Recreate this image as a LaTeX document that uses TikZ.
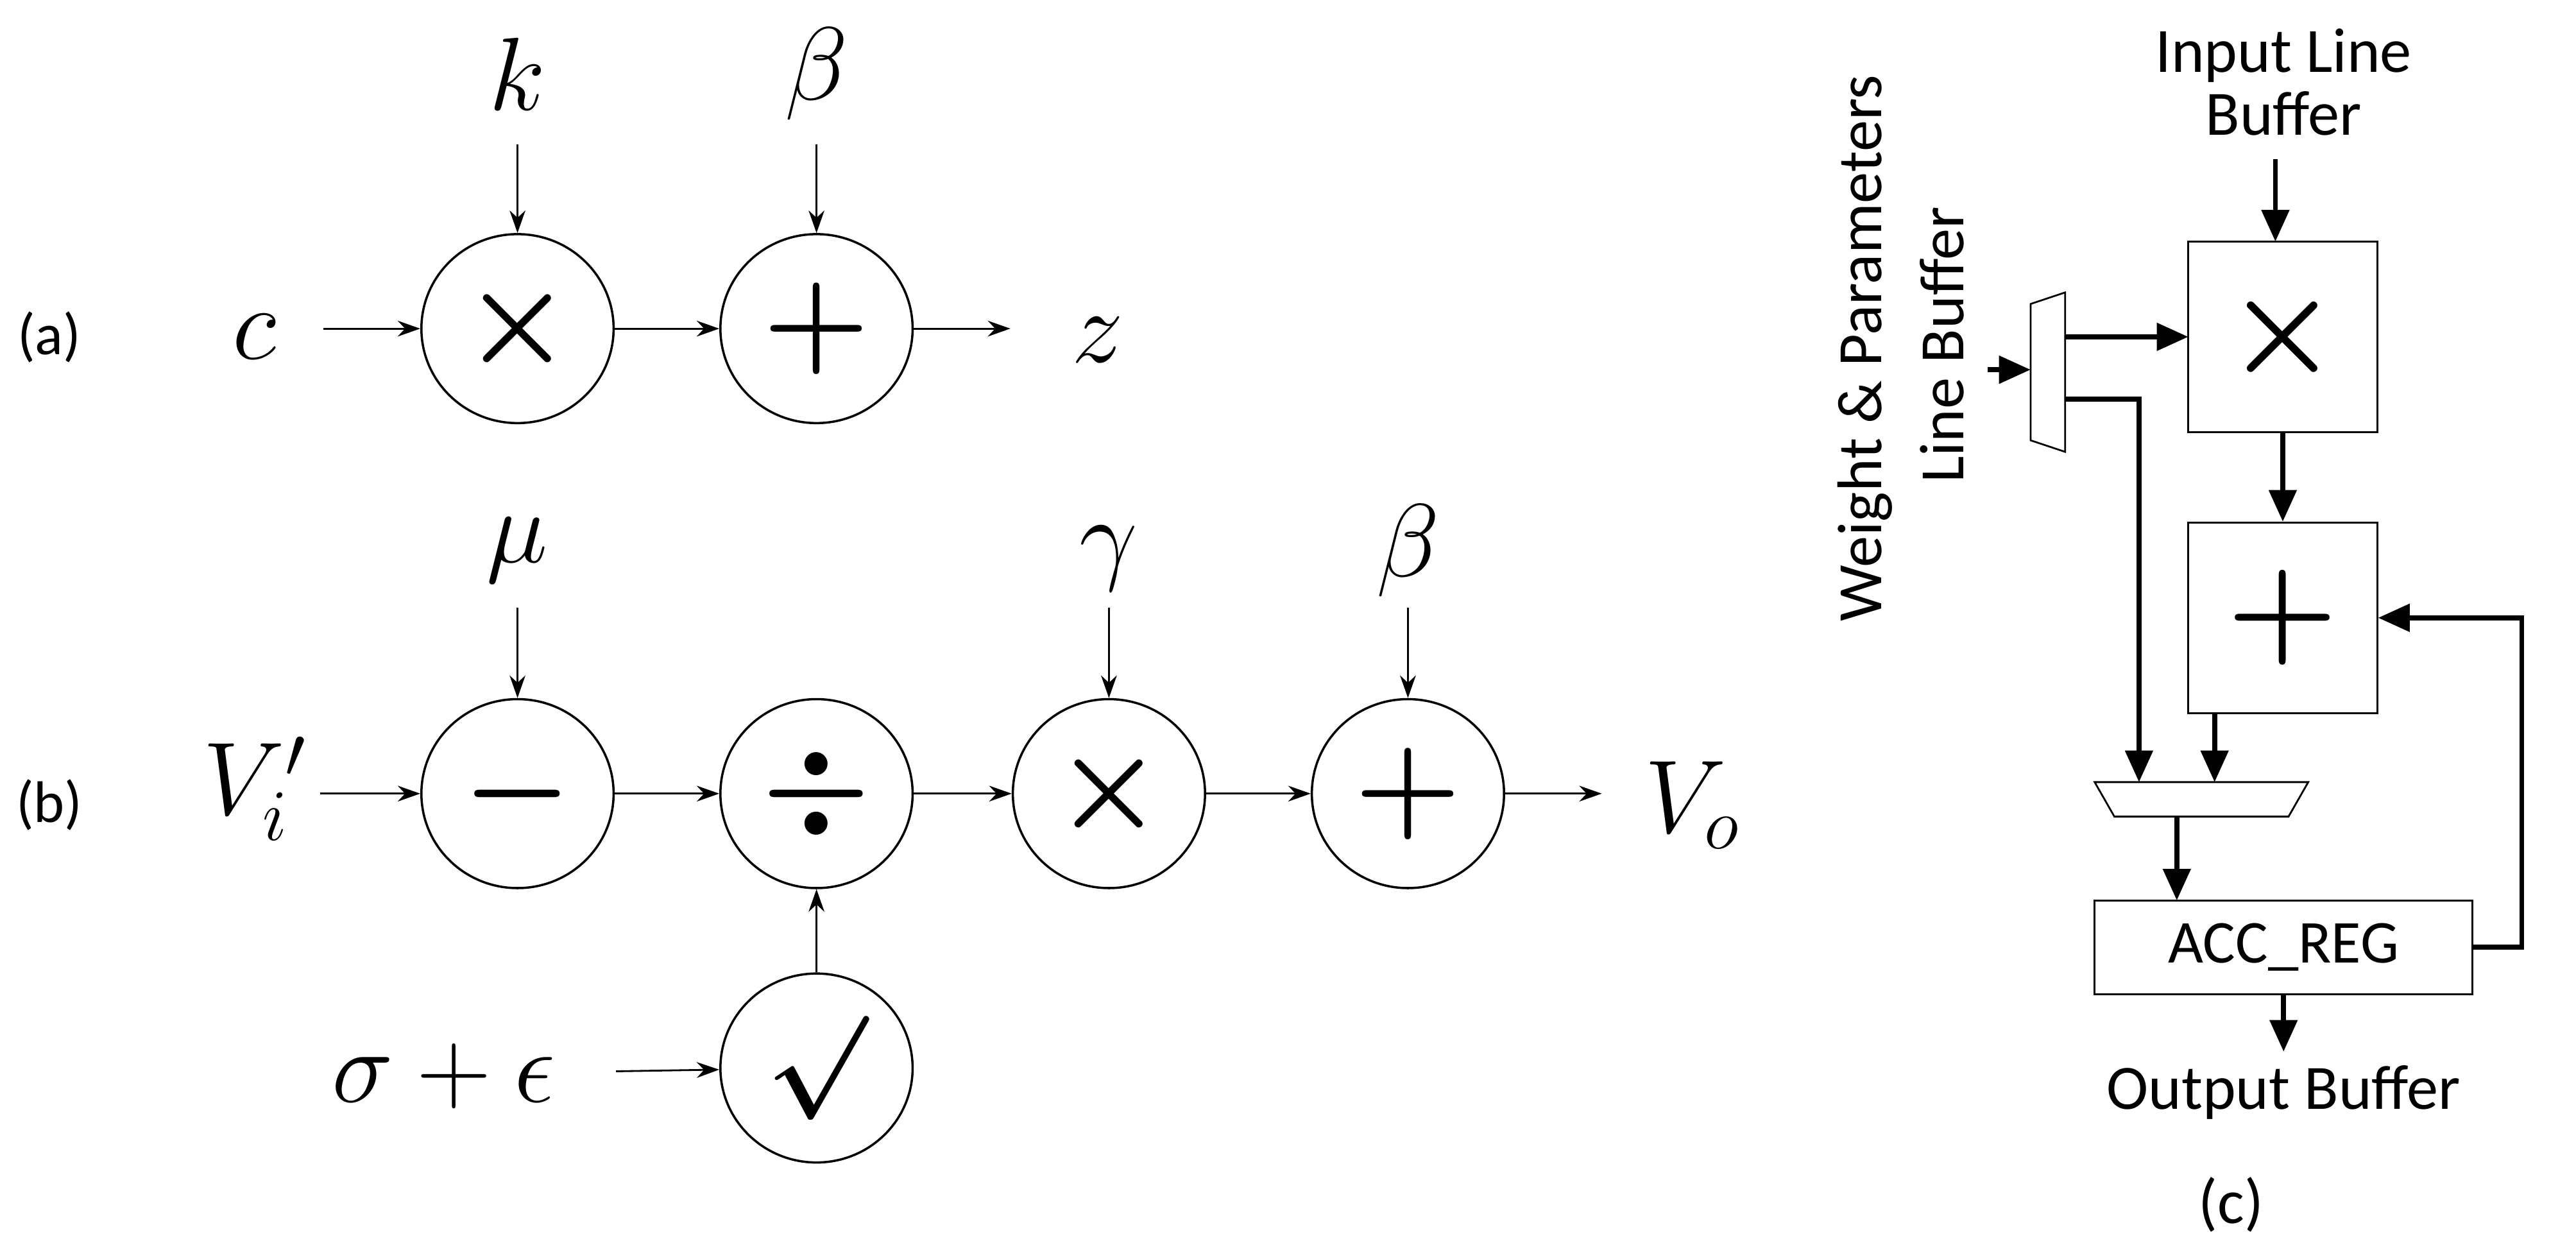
\documentclass[tikz,border=0pt]{standalone}
\usepackage{fix-cm}
\usepackage{amsmath}
\usepackage{fontspec}
\setmainfont{Carlito}
\usetikzlibrary{arrows.meta,shapes.geometric}
\begin{document}
\begin{tikzpicture}[x=0.02561cm,y=-0.02561cm,
  op/.style={draw,line width=1pt,ellipse,minimum width=117*0.02561cm,minimum height=115*0.02561cm,inner sep=0pt,font=\fontsize{54}{54}\selectfont},
  var/.style={font=\fontsize{46}{46}\selectfont},
  lab/.style={font=\fontsize{26}{28}\selectfont},
  thin/.style={-{Stealth[length=10pt,width=7pt]},line width=0.8pt},
  box/.style={draw,line width=0.8pt,inner sep=0pt},
  thk/.style={-{Triangle[length=14pt,width=12pt]},line width=2.2pt},
  ctxt/.style={font=\fontsize{28}{32}\selectfont,align=center}]
\useasboundingbox (0,0) rectangle (1568,760.4);
% (a)
\node[lab] (la) at (30,205) {(a)};
\node[var] (c) at (155,205) {$c$};
\node[op] (m1) at (315,200) {$\boldsymbol{\times}$};
\node[op] (p1) at (497,200) {$\boldsymbol{+}$};
\node[var] (z) at (668,207) {$z$};
\node[var] (k) at (315,45) {$k$};
\node[var] (b1) at (497,45) {$\beta$};
\coordinate (ci) at (197,200); \coordinate (zo) at (615,200);
\coordinate (kt) at (315,88); \coordinate (bt) at (497,88);
\draw[thin] (ci) -- (m1); \draw[thin] (m1) -- (p1); \draw[thin] (p1) -- (zo);
\draw[thin] (kt) -- (m1); \draw[thin] (bt) -- (p1);
% (b)
\node[lab] (lb) at (30,490) {(b)};
\node[var] (vi) at (155,480) {$V_i'$};
\node[op] (s2) at (315,483) {$\boldsymbol{-}$};
\node[op] (d2) at (497,483) {$\boldsymbol{\div}$};
\node[op] (m2) at (675,483) {$\boldsymbol{\times}$};
\node[op] (p2) at (857,483) {$\boldsymbol{+}$};
\node[op,font=\fontsize{46}{46}\selectfont] (sq) at (497,650) {$\boldsymbol{\surd}$};
\node[var] (vo) at (1030,490) {$V_o$};
\node[var] (mu) at (315,335) {$\mu$};
\node[var] (ga) at (675,340) {$\gamma$};
\node[var] (b2) at (857,335) {$\beta$};
\node[var] (se) at (270,655) {$\sigma+\epsilon$};
\coordinate (vii) at (195,483); \coordinate (voo) at (975,483);
\coordinate (mut) at (315,370); \coordinate (gat) at (675,370); \coordinate (b2t) at (857,370);
\coordinate (sei) at (375,652);
\draw[thin] (vii) -- (s2); \draw[thin] (s2) -- (d2); \draw[thin] (d2) -- (m2);
\draw[thin] (m2) -- (p2); \draw[thin] (p2) -- (voo);
\draw[thin] (mut) -- (s2); \draw[thin] (gat) -- (m2); \draw[thin] (b2t) -- (p2);
\draw[thin] (sq) -- (d2); \draw[thin] (sei) -- (sq);
% (c)
\node[ctxt] (ilb) at (1390,50) {Input Line\\[-4pt]Buffer};
\node[box,minimum width=115*0.02561cm,minimum height=116*0.02561cm,font=\fontsize{56}{56}\selectfont] (mb) at (1389.5,205) {$\boldsymbol{\times}$};
\node[box,minimum width=115*0.02561cm,minimum height=116*0.02561cm,font=\fontsize{56}{56}\selectfont] (pb) at (1389.5,376) {$\boldsymbol{+}$};
\node[box,minimum width=230*0.02561cm,minimum height=57*0.02561cm,font=\fontsize{27}{27}\selectfont] (acc) at (1390,576.5) {ACC\_REG};
\node[ctxt] (ob) at (1390,665) {Output Buffer};
\node[ctxt] (lc) at (1358,733) {(c)};
\node[ctxt,rotate=90] (w1) at (1135,212) {Weight \& Parameters};
\node[ctxt,rotate=90] (w2) at (1182,210) {Line Buffer};
\draw[line width=0.8pt] (1236,185) -- (1257,178) -- (1257,275) -- (1236,268) -- cycle;
\draw[line width=0.8pt] (1275,476) -- (1405,476) -- (1393,497) -- (1287,497) -- cycle;
\coordinate (ilbb) at (1385,97);
\draw[thk] (ilbb) -- (1385,147);
\draw[thk] (mb.south) -- (pb.north);
\draw[thk] (1210,225) -- (1236,225);
\draw[thk] (1257,205) -- (1332,205);
\draw[thk] (1257,243) -- (1302,243) -- (1302,476);
\draw[thk] (1348,434) -- (1348,476);
\draw[thk] (1325,497) -- (1325,548);
\draw[thk] (acc.east) -- (1535,576.5) -- (1535,376) -- (pb.east);
\draw[thk] (1390,605) -- (1390,640);
\end{tikzpicture}
\end{document}
